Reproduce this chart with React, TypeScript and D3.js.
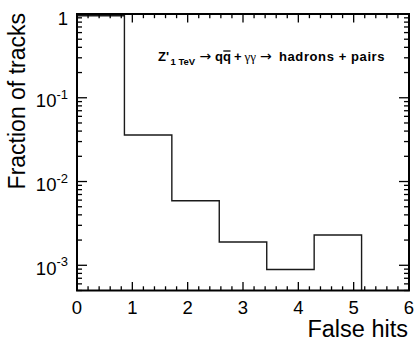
import React from "react";
import * as d3 from "d3";

const binEdges = [0, 0.857, 1.714, 2.571, 3.429, 4.286, 5.143, 6];
const fractions = [0.953, 0.036, 0.0059, 0.0019, 0.00089, 0.0023, 0];
const xTickValues = [0, 1, 2, 3, 4, 5, 6];
const yTickExponents = [0, -1, -2, -3];

const W = 415, H = 342;
const L = 77, R = 409, T = 14, B = 290.5;
const FONT = "'Liberation Sans', Arial, Helvetica, sans-serif";

export default function App() {
  const x = d3.scaleLinear().domain([0, 6]).range([L, R]);
  const y = d3.scaleLog().domain([5e-4, 1]).range([B, T]).clamp(true);

  let d = `M${x(binEdges[0])},${B}`;
  for (let i = 0; i < fractions.length; i++) {
    const v = fractions[i];
    if (v <= 0) {
      d += `V${B}`;
      break;
    }
    d += `V${y(v)}H${x(binEdges[i + 1])}`;
    if (i === fractions.length - 1) d += `V${B}`;
  }

  const xMinor = d3.range(0, 6.0001, 0.2).filter((v) => Math.abs(v - Math.round(v)) > 1e-6);
  const yMinor: number[] = [];
  for (let e = -4; e <= 0; e++) {
    for (let m = 2; m <= 9; m++) {
      const v = m * Math.pow(10, e);
      if (v >= 5e-4 - 1e-12 && v < 1) yMinor.push(v);
    }
  }

  return (
    <svg width={W} height={H} style={{ position: "absolute", left: 0, top: 0, background: "#fff" }}>
      <rect x={0} y={0} width={W} height={H} fill="#fff" />
      <path d={d} fill="none" stroke="#1a1a1a" strokeWidth={1.4} />
      <g stroke="#000" strokeWidth={1.3}>
        {xTickValues.map((v) => (
          <g key={"xm" + v}>
            <line x1={x(v)} x2={x(v)} y1={B} y2={B - 8.5} />
            <line x1={x(v)} x2={x(v)} y1={T} y2={T + 8.5} />
          </g>
        ))}
        {xMinor.map((v, i) => (
          <g key={"xn" + i}>
            <line x1={x(v)} x2={x(v)} y1={B} y2={B - 4.2} />
            <line x1={x(v)} x2={x(v)} y1={T} y2={T + 4.2} />
          </g>
        ))}
        {yTickExponents.map((e) => (
          <g key={"ym" + e}>
            <line x1={L} x2={L + 10} y1={y(Math.pow(10, e))} y2={y(Math.pow(10, e))} />
            <line x1={R} x2={R - 10} y1={y(Math.pow(10, e))} y2={y(Math.pow(10, e))} />
          </g>
        ))}
        {yMinor.map((v, i) => (
          <g key={"yn" + i}>
            <line x1={L} x2={L + 5} y1={y(v)} y2={y(v)} />
            <line x1={R} x2={R - 5} y1={y(v)} y2={y(v)} />
          </g>
        ))}
      </g>
      <rect x={L} y={T} width={R - L} height={B - T} fill="none" stroke="#000" strokeWidth={2} />
      <g fontFamily={FONT} fontSize={18.5} fill="#000" textAnchor="middle">
        {xTickValues.map((v) => (
          <text key={"xl" + v} x={x(v)} y={314}>
            {v}
          </text>
        ))}
      </g>
      <g fontFamily={FONT} fill="#000" textAnchor="end">
        {yTickExponents.map((e) =>
          e === 0 ? (
            <text key={"yl" + e} x={68} y={y(1) + 11} fontSize={18.5}>
              1
            </text>
          ) : (
            <text key={"yl" + e} x={68} y={y(Math.pow(10, e)) + 9.5} fontSize={18.5}>
              10
              <tspan fontSize={13} dy={-8.5}>
                {"-" + Math.abs(e)}
              </tspan>
            </text>
          )
        )}
      </g>
      <text x={408} y={337} fontFamily={FONT} fontSize={23.5} textAnchor="end" fill="#000">
        False hits
      </text>
      <text
        transform={`translate(25,13) rotate(-90)`}
        fontFamily={FONT}
        fontSize={23}
        textAnchor="end"
        fill="#000"
      >
        Fraction of tracks
      </text>
      <g fontFamily={FONT} fill="#000">
        <text x={158} y={60.7} fontSize={13} fontWeight="bold">Z'</text>
        <text x={170.5} y={65} fontSize={9.5} fontWeight="bold">1 TeV</text>
        <text x={199.5} y={60.7} fontSize={14} fontFamily="'DejaVu Sans', sans-serif">{"\u2192"}</text>
        <text x={215} y={60.7} fontSize={13} fontWeight="bold">qq</text>
        <line x1={223.3} x2={230.5} y1={51} y2={51} stroke="#000" strokeWidth={1.3} />
        <text x={234} y={60.7} fontSize={13} fontWeight="bold">+</text>
        <text x={244.5} y={60.7} fontSize={13} fontFamily="'Liberation Serif', serif">{"\u03B3\u03B3"}</text>
        <text x={260} y={60.7} fontSize={14} fontFamily="'DejaVu Sans', sans-serif">{"\u2192"}</text>
        <text x={279} y={60.7} fontSize={13} fontWeight="bold" textLength={105.5}>hadrons + pairs</text>
      </g>
    </svg>
  );
}
